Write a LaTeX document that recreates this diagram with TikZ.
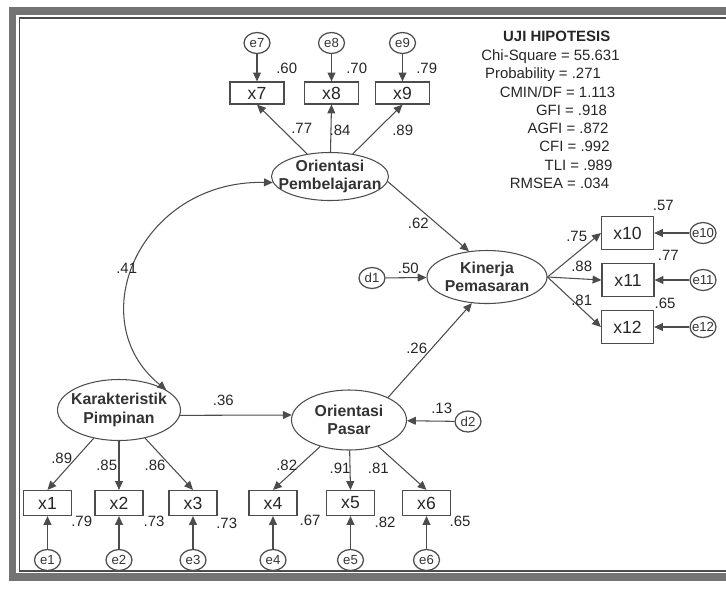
\documentclass[tikz,border=0pt]{standalone}
\usepackage{fontspec}
\setmainfont{Liberation Sans}
\usetikzlibrary{arrows.meta,shapes.geometric}

\begin{document}
\begin{tikzpicture}[x=0.02cm,y=-0.02cm,
		lat/.style={ellipse,draw=black!70,line width=0.6pt,inner xsep=-30pt,inner ysep=-15pt,align=center,font=\fontsize{9}{10.6}\selectfont\bfseries,text=black!80},
		obs/.style={rectangle,draw=black!70,line width=0.7pt,minimum width=0.96cm,minimum height=0.5cm,inner sep=0pt,font=\fontsize{10}{12}\selectfont,text=black!85},
		err/.style={ellipse,draw=black!70,line width=0.7pt,minimum width=0.52cm,minimum height=0.42cm,inner sep=-10pt,font=\fontsize{7.5}{8}\selectfont,text=black!80},
		arr/.style={draw=black!70,line width=0.6pt,-{Triangle[length=5pt,width=4.5pt]}},
		lbl/.style={font=\fontsize{8.5}{10}\selectfont,text=black!85,inner sep=0pt}]
		\useasboundingbox (0,0) rectangle (726,589);
		\draw[black!55,line width=0.16cm] (726,11) -- (12.5,11) -- (12.5,577) -- (726,577);
		\draw[black!70,line width=0.6pt] (726,18) -- (19.5,18) -- (19.5,571) -- (726,571);
		% latent variables
		\node[lat,minimum width=2.34cm,minimum height=0.96cm] (OP) at (330,176.5) {Orientasi\\Pembelajaran};
		\node[lat,minimum width=2.4cm,minimum height=1.06cm] (KN) at (487,277) {Kinerja\\Pemasaran};
		\node[lat,minimum width=2.46cm,minimum height=1.22cm] (KP) at (119,410) {Karakteristik\\Pimpinan};
		\node[lat,minimum width=2.3cm,minimum height=1.2cm] (OPs) at (349,420) {Orientasi\\Pasar};
		% indicators
		\node[obs,minimum width=1.08cm,minimum height=0.44cm] (x7) at (257,93) {x7};
		\node[obs,minimum width=1.08cm,minimum height=0.44cm] (x8) at (331.5,93) {x8};
		\node[obs,minimum width=1.08cm,minimum height=0.44cm] (x9) at (402.5,93) {x9};
		\node[obs] (x1) at (47.5,503) {x1};
		\node[obs] (x2) at (119,503) {x2};
		\node[obs] (x3) at (193,503) {x3};
		\node[obs] (x4) at (273,503) {x4};
		\node[obs] (x5) at (350.5,503) {x5};
		\node[obs] (x6) at (426.5,503) {x6};
		\node[obs,minimum width=1.04cm,minimum height=0.66cm] (x10) at (627.5,233) {x10};
		\node[obs,minimum width=1.04cm,minimum height=0.66cm] (x11) at (628,280) {x11};
		\node[obs,minimum width=1.04cm,minimum height=0.66cm] (x12) at (627.5,327) {x12};
		% errors
		\node[err] (e7) at (257,43) {e7};
		\node[err] (e8) at (331.5,43) {e8};
		\node[err] (e9) at (402.5,43) {e9};
		\node[err] (e1) at (47.5,560) {e1};
		\node[err] (e2) at (119,560) {e2};
		\node[err] (e3) at (193,560) {e3};
		\node[err] (e4) at (273,560) {e4};
		\node[err] (e5) at (350.5,560) {e5};
		\node[err] (e6) at (426.5,560) {e6};
		\node[err] (e10) at (703,233) {e10};
		\node[err] (e11) at (703,280) {e11};
		\node[err] (e12) at (703,327) {e12};
		\node[err] (d1) at (372,278) {d1};
		\node[err] (d2) at (468,421.5) {d2};
		% paths
		\draw[arr] (e7) -- (x7);
		\draw[arr] (e8) -- (x8);
		\draw[arr] (e9) -- (x9);
		\draw[arr] (e1) -- (x1);
		\draw[arr] (e2) -- (x2);
		\draw[arr] (e3) -- (x3);
		\draw[arr] (e4) -- (x4);
		\draw[arr] (e5) -- (x5);
		\draw[arr] (e6) -- (x6);
		\draw[arr] (e10) -- (x10);
		\draw[arr] (e11) -- (x11);
		\draw[arr] (e12) -- (x12);
		\draw[arr] (OP) -- (x7.south);
		\draw[arr] (OP) -- (x8.south);
		\draw[arr] (OP) -- (x9.south);
		\draw[arr] (KP) -- (x1.north);
		\draw[arr] (KP) -- (x2.north);
		\draw[arr] (KP) -- (x3.north);
		\draw[arr] (OPs) -- (x4.north);
		\draw[arr] (OPs) -- (x5.north);
		\draw[arr] (OPs) -- (x6.north);
		\draw[arr] (KN.east) -- (x10.west);
		\draw[arr] (KN.east) -- (x11.west);
		\draw[arr] (KN.east) -- (x12.west);
		\draw[arr] (d1) -- (KN);
		\draw[arr] (d2) -- (OPs);
		\draw[arr] (OP.-5) -- (KN.125);
		\draw[arr] (OPs.30) -- (KN.-120);
		\draw[arr] (KP.-5) -- (OPs.175);
		\draw[draw=black!70,line width=0.6pt,{Triangle[length=5pt,width=4.5pt]}-{Triangle[length=5pt,width=4.5pt]}] (OP.186) .. controls (140,180) and (80,320) .. (KP.23);
		% estimates
		\node[lbl] (r7) at (286.7,68.3) {.60};
		\node[lbl] (r8) at (356.7,68.3) {.70};
		\node[lbl] (r9) at (426.7,68.3) {.79};
		\node[lbl] (w7) at (301.7,128.3) {.77};
		\node[lbl] (w8) at (340,130) {.84};
		\node[lbl] (w9) at (402.7,130) {.89};
		\node[lbl] (bOP) at (418.3,223.3) {.62};
		\node[lbl] (bOPs) at (416.7,348.3) {.26};
		\node[lbl] (bKP) at (223.3,400) {.36};
		\node[lbl] (cov) at (126.7,268.3) {.41};
		\node[lbl] (rKN) at (408.3,268.3) {.50};
		\node[lbl] (rOPs) at (441.7,408.3) {.13};
		\node[lbl] (r10) at (663.3,205) {.57};
		\node[lbl] (r11) at (668.3,255) {.77};
		\node[lbl] (r12) at (665,303.3) {.65};
		\node[lbl] (w10) at (576.7,236.7) {.75};
		\node[lbl] (w11) at (581.7,266.7) {.88};
		\node[lbl] (w12) at (581.7,300) {.81};
		\node[lbl] (w1) at (61.7,458.3) {.89};
		\node[lbl] (w2) at (106.7,465) {.85};
		\node[lbl] (w3) at (155,465) {.86};
		\node[lbl] (r1) at (81.7,521.7) {.79};
		\node[lbl] (r2) at (154,521.7) {.73};
		\node[lbl] (r3) at (226.7,523.3) {.73};
		\node[lbl] (w4) at (286.7,465) {.82};
		\node[lbl] (w5) at (340,468.3) {.91};
		\node[lbl] (w6) at (378.3,468.3) {.81};
		\node[lbl] (r4) at (310,520.7) {.67};
		\node[lbl] (r5) at (385,522.7) {.82};
		\node[lbl] (r6) at (460,521.7) {.65};
		% fit
		\node[lbl,font=\fontsize{8.5}{10}\selectfont\bfseries] (st0) at (556.7,36.7) {UJI HIPOTESIS};
		\node[lbl] (st1) at (550.5,56.7) {Chi-Square = 55.631};
		\node[lbl] (st2) at (543,75) {Probability = .271};
		\node[lbl] (st3) at (557.5,91.7) {CMIN/DF = 1.113};
		\node[lbl] (st4) at (571.5,110) {GFI = .918};
		\node[lbl] (st5) at (568,128) {AGFI = .872};
		\node[lbl] (st6) at (574.5,146.7) {CFI = .992};
		\node[lbl] (st7) at (578.5,165) {TLI = .989};
		\node[lbl] (st8) at (559.5,183) {RMSEA = .034};
	\end{tikzpicture}
\end{document}
